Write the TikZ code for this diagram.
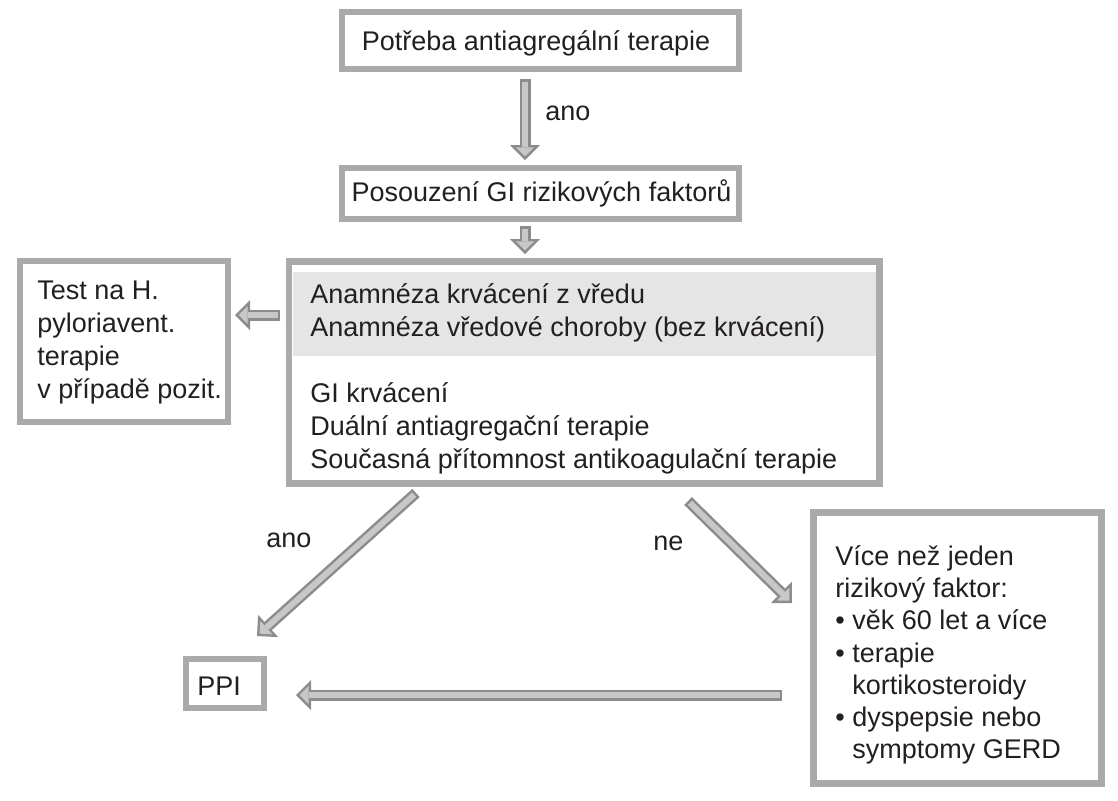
\documentclass[tikz,border=0pt]{standalone}
\usepackage{fontspec}
\setmainfont{Liberation Sans}
\usetikzlibrary{arrows.meta,calc}

\definecolor{boxgray}{RGB}{170,170,170}
\definecolor{arrgray}{RGB}{140,140,140}
\definecolor{arrfill}{RGB}{200,200,200}
\definecolor{shadegray}{RGB}{229,229,229}
\definecolor{ink}{RGB}{35,31,32}

\newcommand{\itm}{•\ }
\newcommand{\ind}{\hphantom{•}\ }

\begin{document}
\begin{tikzpicture}[x=0.5pt, y=-0.5pt,
	box/.style={draw=boxgray, line width=3.25pt, outer sep=0pt, inner sep=0pt},
	txt/.style={inner sep=0pt, text=ink, align=left, font=\fontsize{13.5pt}{16.5pt}\selectfont},
	blk/.style={draw=arrgray, line width=5.5pt, -{Triangle[length=7.5pt,width=15pt,line width=0pt]},
		postaction={draw=arrfill, line width=3pt, shorten <=1.25pt, shorten >=1.77pt,
			-{Triangle[length=4.5pt,width=9pt,line width=0pt]}}}]
	\useasboundingbox (0,0) rectangle (1118,800);

	% Boxes
	\node[box, minimum width=198.5pt, minimum height=28.5pt] (need) at (540.5,40.5) {};
	\node[box, minimum width=198.5pt, minimum height=25.5pt] (assess) at (540.5,193.5) {};
	\node[box, minimum width=295.25pt, minimum height=111pt] (hist) at (584.25,372.5) {};
	\node[box, minimum width=104pt, minimum height=80.5pt] (hp) at (124,341.5) {};
	\node[box, minimum width=144pt, minimum height=135.5pt] (more) at (957.5,648) {};
	\node[box, minimum width=39pt, minimum height=24.5pt] (ppi) at (225,683.5) {};

	% Shaded upper part of the history box
	\fill[shadegray] ($(hist.north west)+(3.5,10.5)$) rectangle ($(hist.north east)+(-3.5,94.5)$);

	% Texts
	\node[txt, anchor=base] (needtxt) at (536,50) {Potřeba antiagregální terapie};
	\node[txt, anchor=base] (assesstxt) at (541.5,201) {Posouzení GI rizikových faktorů};
	\node[txt, anchor=north west] (histtxt) at (310,279.9) {\strut Anamnéza krvácení z vředu\\
		Anamnéza vředové choroby (bez krvácení)\\[16.5pt]
		GI krvácení\\
		Duální antiagregační terapie\\
		Současná přítomnost antikoagulační terapie};
	\node[txt, anchor=north west] (hptxt) at (37,275.9) {\strut Test na H.\\ pyloriavent.\\ terapie\\ v případě pozit.};
	\node[txt, anchor=north west, font=\fontsize{13.5pt}{16.1pt}\selectfont] (moretxt) at (835,542.5) {\strut Více než jeden\\
		rizikový faktor:\\
		\itm věk 60 let a více\\
		\itm terapie\\
		\ind kortikosteroidy\\
		\itm dyspepsie nebo\\
		\ind symptomy GERD};
	\node[txt, anchor=base west] (ppitxt) at (197,695) {PPI};

	% Arrow labels
	\node[txt, anchor=base west] (yes1) at (545,120) {ano};
	\node[txt, anchor=base west] (yes2) at (266,547) {ano};
	\node[txt, anchor=base west] (no) at (653,550) {ne};

	% Arrows
	\draw[blk] ($(need.south)+(-15.5,10)$) -- ($(assess.north)+(-15.5,-8)$);
	\draw[blk] ($(assess.south)+(-15.5,7)$) -- ($(hist.north)+(-59.25,-7.5)$);
	\draw[blk] ($(hist.north west)+(-9,53.5)$) -- ($(hp.north east)+(7,54)$);
	\draw[blk] ($(hist.south)+(-168.25,9.5)$) -- ($(ppi.north east)+(-7,-23)$);
	\draw[blk] ($(hist.south)+(103.75,17.5)$) -- ($(more.north west)+(-21.5,90.5)$);
	\draw[blk] ($(more.west)+(-31.5,47)$) -- ($(ppi.east)+(32,11.5)$);
\end{tikzpicture}
\end{document}
